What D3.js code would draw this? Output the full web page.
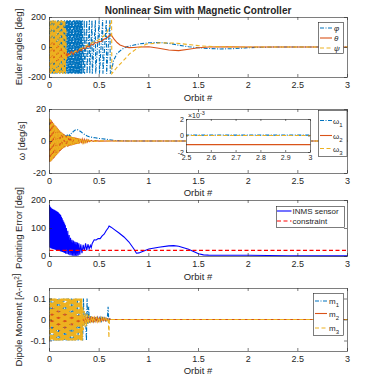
<!DOCTYPE html>
<html>
<head>
<meta charset="utf-8">
<script src="https://cdn.jsdelivr.net/npm/d3@7"></script>
<style>
  body { margin: 0; background: #fff; }
  svg text { font-family: "Liberation Sans", Arial, Helvetica, sans-serif; fill: #262626; }
</style>
</head>
<body>
<script>
// ---- data: [orbit #, value] ----

const orbitTicks = [0, 0.5, 1, 1.5, 2, 2.5, 3];
const eulerTicks = [-200, 0, 200];
const omegaTicks = [-20, 0, 20];
const errorTicks = [0, 100, 200];
const dipoleTicks = [-0.1, 0, 0.1];
const insetXTicks = [2.5, 2.6, 2.7, 2.8, 2.9, 3];
const insetYTicks = [-0.002, 0, 0.002];

const eulerNames = ["φ", "θ", "ψ"];
const omegaNames = ["1", "2", "3"];
const errorNames = ["INMS sensor", "constraint"];
const dipoleNames = ["1", "2", "3"];

// Euler angles [deg]
const eulerPhi = [[0,165],[0.005,-172],[0.01,178],[0.015,-160],[0.02,174],[0.025,-178],[0.03,168],[0.035,-175],[0.04,179],[0.045,-166],
  [0.05,172],[0.055,-178],[0.06,176],[0.065,-170],[0.07,162],[0.075,-178],[0.08,177],[0.085,-168],[0.09,179],[0.095,-174],
  [0.1,170],[0.105,-178],[0.11,175],[0.115,-163],[0.12,178],[0.125,-176],[0.13,169],[0.135,-179],[0.14,176],[0.145,-171],
  [0.15,179],[0.155,-177],[0.16,172],[0.165,-179],[0.17,177],[0.175,-174],[0.18,179],[0.185,-178],[0.19,175],[0.195,-179],
  [0.2,178],[0.205,-176],[0.21,179],[0.215,-178],[0.22,174],[0.225,-179],[0.23,178],[0.235,-177],[0.24,179],[0.245,-175],
  [0.25,178],[0.255,-179],[0.26,176],[0.265,-178],[0.27,179],[0.275,-176],[0.28,178],[0.285,-179],[0.29,177],[0.295,-178],
  [0.3,179],[0.305,-177],[0.31,178],[0.315,-179],[0.32,176],[0.325,-178],[0.33,179],[0.34,-178],[0.35,178],
  [0.353,-178],[0.375,178],[0.378,-178],[0.402,178],[0.405,-178],[0.428,178],[0.431,-178],[0.462,178],[0.465,-178],
  [0.5,178],[0.503,-178],[0.535,178],[0.538,-178],[0.572,178],[0.575,-178],[0.608,178],[0.612,-178],
  [0.63,-140],[0.645,-90],[0.68,-43],[0.73,-15],[0.78,2],[0.85,13],[0.91,21],[1.0,28],[1.1,30],[1.2,25],[1.3,12],
  [1.4,2],[1.5,-5],[1.6,-10],[1.72,-13],[1.85,-11],[1.97,-6],[2.1,-2],[2.3,0],[3,0]];
const eulerTheta = [[0,0],[0.005,70],[0.01,-90],[0.015,50],[0.02,-100],[0.025,40],[0.03,-95],[0.035,60],[0.04,-110],[0.045,30],
  [0.05,-90],[0.055,45],[0.06,-105],[0.065,20],[0.07,-95],[0.075,25],[0.08,-100],[0.085,10],[0.09,-90],[0.095,15],
  [0.1,-85],[0.105,0],[0.11,-90],[0.115,-5],[0.12,-80],[0.125,-10],[0.13,-85],[0.135,-20],[0.14,-75],[0.145,-25],
  [0.15,-80],[0.155,-30],[0.16,-70],[0.165,-35],[0.17,-65],[0.175,-40],[0.18,-60],[0.19,-45],[0.2,-55],
  [0.22,-30],[0.24,-50],[0.26,-25],[0.28,-35],[0.3,-15],[0.32,-25],[0.34,-5],[0.36,-12],[0.38,5],[0.4,0],
  [0.42,20],[0.44,14],[0.46,30],[0.48,27],[0.5,38],[0.52,35],[0.54,48],[0.56,55],[0.58,62],[0.6,75],[0.615,82],
  [0.63,72],[0.65,52],[0.68,30],[0.71,14],[0.75,3],[0.8,-4],[0.85,-3],[0.9,0],[1.0,2],[1.1,-8],[1.2,-20],[1.3,-24],
  [1.4,-15],[1.5,-5],[1.6,0],[1.8,2],[2.0,0],[3,0]];
const eulerPsi = [[0,-170],[0.005,176],[0.01,-178],[0.015,170],[0.02,-174],[0.025,178],[0.03,-165],[0.035,177],[0.04,-178],[0.045,172],
  [0.05,-176],[0.055,179],[0.06,-170],[0.065,175],[0.07,-178],[0.075,168],[0.08,-177],[0.085,178],[0.09,-172],[0.095,176],
  [0.1,-179],[0.105,170],[0.11,-175],[0.115,178],[0.12,-168],[0.125,177],[0.13,-178],[0.135,173],[0.14,-176],[0.145,179],
  [0.15,-171],[0.155,175],[0.16,-178],[0.165,120],[0.17,-80],
  [0.19,-60],[0.22,-45],[0.26,-30],[0.3,-15],[0.35,0],[0.4,20],[0.45,35],[0.5,50],[0.55,75],[0.58,100],[0.605,140],
  [0.625,178],[0.628,-178],[0.68,-135],[0.745,-90],[0.81,-43],[0.88,-10],[0.98,20],[1.12,28],[1.28,25],[1.42,15],
  [1.5,9],[1.6,4],[1.8,1],[2.0,0],[3,0]];

// body rates [deg/s]
const omega1 = [[0,12],[0.006,-12.5],[0.012,12],[0.018,-11.5],[0.024,11],[0.03,-10.8],[0.036,10.2],[0.042,-9.8],[0.048,9.4],[0.054,-9],
  [0.06,8.6],[0.066,-8.2],[0.072,7.8],[0.078,-7.4],[0.084,7],[0.09,-6.6],[0.096,6.2],[0.102,-5.8],[0.108,5.6],[0.114,-5.2],
  [0.12,5],[0.126,-4.6],[0.132,4.4],[0.138,-4],[0.144,4],[0.15,-3.4],[0.156,3.8],[0.162,-2.6],[0.168,3.6],[0.174,-1.5],
  [0.18,3.5],[0.19,2.5],[0.2,3.8],[0.21,3.2],[0.22,4.8],[0.23,5],[0.24,6],[0.25,6.4],[0.26,6.9],[0.27,7],[0.28,7.1],
  [0.29,6.8],[0.3,6.5],[0.32,5.6],[0.34,4.6],[0.36,3.8],[0.38,3.1],[0.4,2.6],[0.42,2.4],[0.44,2.1],[0.46,2],[0.48,1.8],
  [0.5,1.6],[0.53,1.4],[0.56,1.2],[0.6,0.8],[0.65,0.4],[0.7,0.15],[0.8,0.00005],[3,0.00005]];
const omega2 = [[0,-13],[0.006,13.6],[0.012,-12.8],[0.018,12.9],[0.024,-12],[0.03,12],[0.036,-11.3],[0.042,11],[0.048,-10.4],[0.054,10],
  [0.06,-9.5],[0.066,9.2],[0.072,-8.7],[0.078,8.3],[0.084,-7.8],[0.09,7.4],[0.096,-7],[0.102,6.6],[0.108,-6.2],[0.114,5.8],
  [0.12,-5.5],[0.126,5.1],[0.132,-4.8],[0.138,4.5],[0.144,-4.3],[0.15,4.1],[0.156,-3.9],[0.162,3.2],[0.168,-2.8],[0.174,3.3],
  [0.18,-3.6],[0.186,3.4],[0.192,-3.3],[0.198,3.1],[0.204,-3],[0.21,2.9],[0.216,-2.8],[0.222,2.7],[0.228,-2.6],[0.234,2.5],
  [0.24,-2.4],[0.246,2.3],[0.252,-2.2],[0.258,2.1],[0.264,-2],[0.27,2],[0.276,-1.9],[0.282,1.8],[0.288,-1.7],[0.294,1.6],
  [0.3,-1.5],[0.31,1.4],[0.32,-1.3],[0.33,1.2],[0.34,-1.1],[0.35,1],[0.36,-0.9],[0.37,0.8],[0.38,-0.7],[0.39,0.6],
  [0.4,-0.5],[0.42,0.4],[0.44,-0.3],[0.46,0.2],[0.5,-0.1],[0.6,-0.0011],[3,-0.0011]];
const omega3 = [[0,14],[0.006,-13.5],[0.012,13.2],[0.018,-12.6],[0.024,12.2],[0.03,-11.8],[0.036,11.2],[0.042,-10.8],[0.048,10.3],[0.054,-9.8],
  [0.06,9.4],[0.066,-9],[0.072,8.5],[0.078,-8.1],[0.084,7.6],[0.09,-7.2],[0.096,6.8],[0.102,-6.4],[0.108,6],[0.114,-5.7],
  [0.12,5.3],[0.126,-5],[0.132,4.7],[0.138,-4.4],[0.144,4.2],[0.15,-4],[0.156,3.8],[0.162,-3.5],[0.168,2.5],[0.174,-3],
  [0.18,3.5],[0.186,-3.4],[0.192,3.3],[0.198,-3.2],[0.204,3],[0.21,-2.9],[0.216,2.8],[0.222,-2.7],[0.228,2.6],[0.234,-2.5],
  [0.24,2.4],[0.246,-2.3],[0.252,2.2],[0.258,-2.1],[0.264,2],[0.27,-2],[0.276,1.9],[0.282,-1.8],[0.288,1.7],[0.294,-1.6],
  [0.3,1.5],[0.31,-1.4],[0.32,1.3],[0.33,-1.2],[0.34,1.1],[0.35,-1],[0.36,0.9],[0.37,-0.8],[0.38,0.7],[0.39,-0.6],
  [0.4,0.5],[0.42,-0.4],[0.44,0.3],[0.46,-0.2],[0.5,0.1],[0.6,0],[3,0]];

// pointing error [deg]
const pointError = [[0,182],[0.004,30],[0.008,176],[0.012,28],[0.016,172],[0.02,27],[0.024,170],[0.028,26],[0.032,168],[0.036,25],
  [0.04,166],[0.044,24],[0.048,165],[0.052,23],[0.056,163],[0.06,22],[0.064,162],[0.068,21],[0.072,160],[0.076,20],
  [0.08,158],[0.084,19],[0.088,156],[0.092,18],[0.096,153],[0.1,18],[0.104,150],[0.108,17],[0.112,146],[0.116,16],
  [0.12,140],[0.124,15],[0.128,135],[0.132,14],[0.136,128],[0.14,13],[0.144,122],[0.148,12],[0.152,116],[0.156,11],
  [0.16,110],[0.163,8],[0.17,100],[0.177,7],[0.184,90],[0.191,5],[0.198,75],[0.205,3],[0.212,65],[0.219,2],
  [0.226,58],[0.233,1],[0.24,55],[0.247,0],[0.254,52],[0.261,1],[0.268,50],[0.275,0],[0.282,48],[0.289,2],[0.296,45],
  [0.305,5],[0.315,42],[0.327,10],[0.339,40],[0.351,18],[0.363,45],[0.375,20],[0.387,42],[0.399,25],[0.411,38],[0.42,30],
  [0.43,45],[0.45,58],[0.47,57],[0.49,62],[0.51,62],[0.53,72],[0.55,78],[0.57,90],[0.59,100],[0.6,107],[0.62,103],
  [0.65,95],[0.7,82],[0.75,68],[0.8,50],[0.85,25],[0.875,10],[0.9,11],[0.95,18],[1.0,25],[1.1,31],[1.2,36],[1.25,37],
  [1.3,35],[1.4,24],[1.5,8],[1.55,4],[1.6,3],[2.0,2.5],[2.4,1],[3,0.5]];
const pointLimit = [[0,20],[3,20]];

// dipole moment [A-m^2]
const dipoleM1 = [[0,0.1],[0.008,-0.1],[0.016,0.1],[0.024,-0.1],[0.032,0.09],[0.04,-0.1],[0.048,0.1],[0.056,-0.1],[0.064,0.08],[0.072,-0.1],
  [0.08,0.1],[0.088,-0.1],[0.096,0.1],[0.104,-0.1],[0.112,0.07],[0.12,-0.1],[0.128,0.1],[0.136,-0.1],[0.144,0.1],[0.152,-0.1],
  [0.16,0.06],[0.168,-0.1],[0.176,0.1],[0.184,-0.1],[0.19,0.1],[0.196,-0.1],[0.204,0.05],[0.212,-0.1],[0.22,0.1],[0.228,-0.1],
  [0.236,0.1],[0.242,-0.1],[0.25,0.04],[0.258,-0.1],[0.266,0.1],[0.274,-0.06],[0.282,0.1],[0.288,-0.1],[0.296,0.03],[0.304,-0.05],
  [0.312,0.1],[0.318,-0.1],[0.326,0.04],[0.334,-0.1],[0.342,0.1],[0.35,-0.03],[0.36,0.03],[0.372,-0.1],[0.378,0.1],[0.386,-0.02],
  [0.394,0.06],[0.402,-0.015],[0.414,0.015],[0.426,-0.015],[0.438,0.012],[0.45,-0.012],[0.462,0.012],[0.474,-0.01],[0.486,0.01],
  [0.498,-0.01],[0.51,0.01],[0.522,-0.008],[0.534,0.008],[0.546,-0.008],[0.558,0.008],[0.57,-0.006],[0.582,0.006],[0.59,0.06],
  [0.597,-0.01],[0.604,0.002],[0.62,0],[3,0]];
const dipoleM2 = [[0,0.02],[0.008,-0.04],[0.016,0.05],[0.024,-0.03],[0.032,0.06],[0.04,-0.05],[0.048,0.04],[0.056,-0.06],[0.064,0.05],[0.072,-0.04],
  [0.08,0.06],[0.088,-0.05],[0.096,0.05],[0.104,-0.06],[0.112,0.04],[0.12,-0.05],[0.128,0.05],[0.136,-0.04],[0.144,0.045],[0.152,-0.05],
  [0.16,0.04],[0.168,-0.045],[0.176,0.035],[0.184,-0.04],[0.192,0.035],[0.2,-0.04],[0.208,0.03],[0.216,-0.035],[0.224,0.03],[0.232,-0.03],
  [0.24,0.025],[0.248,-0.03],[0.256,0.025],[0.264,-0.025],[0.272,0.02],[0.28,-0.025],[0.288,0.02],[0.296,-0.02],[0.304,0.02],[0.312,-0.02],
  [0.32,0.018],[0.33,-0.018],[0.34,0.016],[0.35,-0.016],[0.36,0.015],[0.372,-0.015],[0.384,0.014],[0.396,-0.014],[0.408,0.012],[0.42,-0.012],
  [0.432,0.012],[0.444,-0.01],[0.456,0.01],[0.468,-0.01],[0.48,0.01],[0.492,-0.008],[0.504,0.008],[0.516,-0.008],[0.528,0.008],
  [0.54,-0.006],[0.552,0.006],[0.564,-0.006],[0.576,0.005],[0.588,-0.005],[0.6,0.004],[0.62,0],[3,0]];
const dipoleM3 = [[0,-0.1],[0.005,0.1],[0.01,-0.1],[0.015,0.1],[0.02,-0.1],[0.025,0.1],[0.03,-0.1],[0.035,0.1],[0.04,-0.1],[0.045,0.1],
  [0.05,-0.1],[0.055,0.1],[0.06,-0.1],[0.065,0.1],[0.07,-0.1],[0.075,0.1],[0.08,-0.1],[0.085,0.1],[0.09,-0.1],[0.095,0.1],
  [0.1,-0.1],[0.105,0.1],[0.11,-0.1],[0.115,0.1],[0.12,-0.1],[0.125,0.1],[0.13,-0.1],[0.135,0.1],[0.14,-0.1],[0.145,0.1],
  [0.15,-0.1],[0.155,0.1],[0.16,-0.1],[0.165,0.1],[0.17,-0.1],[0.175,0.1],[0.18,-0.1],[0.185,0.1],[0.19,-0.1],[0.195,0.1],
  [0.2,-0.1],[0.205,0.1],[0.21,-0.1],[0.215,0.1],[0.22,-0.1],[0.225,0.1],[0.23,-0.1],[0.235,0.1],[0.24,-0.1],[0.245,0.1],
  [0.25,-0.1],[0.255,0.1],[0.26,-0.1],[0.265,0.1],[0.27,-0.1],[0.275,0.1],[0.28,-0.1],[0.285,0.1],[0.29,-0.1],[0.295,0.1],
  [0.3,-0.1],[0.305,0.1],[0.31,-0.1],[0.315,0.1],[0.32,-0.1],[0.325,0.1],[0.33,-0.1],[0.336,0.06],[0.342,-0.05],[0.35,0.04],
  [0.358,-0.035],[0.366,0.03],[0.374,-0.03],[0.382,0.025],[0.39,-0.022],[0.4,0.02],[0.412,-0.018],[0.424,0.016],[0.436,-0.015],
  [0.448,0.014],[0.46,-0.013],[0.472,0.012],[0.484,-0.011],[0.496,0.01],[0.508,-0.01],[0.52,0.009],[0.532,-0.008],[0.544,0.008],
  [0.556,-0.007],[0.568,0.006],[0.58,-0.005],[0.592,0.004],[0.598,-0.087],[0.603,0.002],[0.62,0],[3,0]];

// ---- drawing ----
var blue = "#0072BD", orange = "#D95319", yellow = "#EDB120";
var dashDot = "4,1.5,1,1.5", dashed = "4,2.5";
var axisColor = "#262626";
var lw = 1.1;

var svg = d3.select("body").append("svg")
    .attr("width", 384)
    .attr("height", 381);

var x = d3.scaleLinear().domain([0, 3]).range([49, 347]);
var fmt = function(d) { return String(d); };

function addAxes(g, xs, ys, xt, yt, o) {
  var yb = ys.range()[0], yt0 = ys.range()[1];
  var xl = xs.range()[0], xr = xs.range()[1];
  g.append("g").attr("transform", "translate(0," + yb + ")")
    .call(d3.axisBottom(xs).tickValues(xt).tickSizeInner(-o.tick).tickSizeOuter(0).tickPadding(o.xPad).tickFormat(o.xFmt));
  g.append("g").attr("transform", "translate(0," + yt0 + ")")
    .call(d3.axisTop(xs).tickValues(xt).tickSizeInner(-o.tick).tickSizeOuter(0).tickFormat(""));
  g.append("g").attr("transform", "translate(" + xl + ",0)")
    .call(d3.axisLeft(ys).tickValues(yt).tickSizeInner(-o.tick).tickSizeOuter(0).tickPadding(o.yPad).tickFormat(o.yFmt));
  g.append("g").attr("transform", "translate(" + xr + ",0)")
    .call(d3.axisRight(ys).tickValues(yt).tickSizeInner(-o.tick).tickSizeOuter(0).tickFormat(""));
  g.selectAll(".domain, .tick line").attr("stroke", axisColor).attr("stroke-width", 0.6);
  g.selectAll(".tick text").attr("font-size", o.fs).attr("fill", axisColor)
    .attr("font-family", "'Liberation Sans', Arial, sans-serif");
}

function drawLines(g, xs, ys, series, clipId) {
  g.append("clipPath").attr("id", clipId).append("rect")
    .attr("x", xs.range()[0]).attr("y", ys.range()[1])
    .attr("width", xs.range()[1] - xs.range()[0] + 1)
    .attr("height", ys.range()[0] - ys.range()[1] + 1);
  var line = d3.line().x(d => xs(d[0]) + 0.5).y(d => ys(d[1]));
  var pg = g.append("g").attr("clip-path", "url(#" + clipId + ")");
  series.forEach(function(s) {
    pg.append("path").datum(s.data)
      .attr("d", line)
      .attr("fill", "none")
      .attr("stroke", s.color)
      .attr("stroke-width", s.width || lw)
      .attr("stroke-dasharray", s.dash || null);
  });
}

function legend(g, bx, items) {
  g.append("rect").attr("x", bx.x + 0.5).attr("y", bx.y + 0.5).attr("width", bx.w).attr("height", bx.h)
    .attr("fill", "#fff").attr("stroke", axisColor).attr("stroke-width", 0.6);
  items.forEach(function(it, i) {
    var yy = bx.y + bx.rows[i];
    g.append("line").attr("x1", bx.x + bx.l0).attr("x2", bx.x + bx.l1).attr("y1", yy).attr("y2", yy)
      .attr("stroke", it.color).attr("stroke-width", it.width || lw).attr("stroke-dasharray", it.dash || null);
    var t = g.append("text").attr("x", bx.x + bx.tx).attr("y", yy + 3).attr("font-size", 8);
    t.append("tspan").text(it.label).attr("font-style", it.italic ? "italic" : null);
    if (it.sub) t.append("tspan").text(it.sub).attr("font-size", 6).attr("dy", 3);
  });
}

function yLabel(xp, yc, parts) {
  var t = svg.append("text").attr("transform", "translate(" + xp + "," + yc + ") rotate(-90)")
    .attr("text-anchor", "middle").attr("font-size", 9.5);
  parts.forEach(function(p) {
    var s = t.append("tspan").text(p.t);
    if (p.sup) s.attr("font-size", 6.5).attr("dy", -3.5);
  });
}
function xLabel(yb) {
  svg.append("text").attr("x", 198).attr("y", yb).attr("text-anchor", "middle")
    .attr("font-size", 9.5).text("Orbit #");
}

var mainOpt = {tick: 3, xPad: 5, yPad: 3, fs: 9, xFmt: fmt, yFmt: fmt};

// title
svg.append("text").attr("x", 198).attr("y", 13.5).attr("text-anchor", "middle")
  .attr("font-size", 10).attr("font-weight", "bold").text("Nonlinear Sim with Magnetic Controller");

// Panel 1: Euler angles
var y1 = d3.scaleLinear().domain([-200, 200]).range([77, 17]);
var g1 = svg.append("g");
drawLines(g1, x, y1, [
  {data: eulerPhi, color: blue, dash: dashDot},
  {data: eulerTheta, color: orange},
  {data: eulerPsi, color: yellow, dash: dashed}
], "c1");
addAxes(g1, x, y1, orbitTicks, eulerTicks, mainOpt);
legend(g1, {x: 318, y: 22, w: 25, h: 31, rows: [6, 16, 26], l0: 2, l1: 14, tx: 16}, [
  {color: blue, dash: dashDot, label: eulerNames[0], italic: true},
  {color: orange, label: eulerNames[1], italic: true},
  {color: yellow, dash: dashed, label: eulerNames[2], italic: true}
]);
yLabel(22, 47, [{t: "Euler angles [deg]"}]);
xLabel(100.5);

// Panel 2: body rates, with zoomed inset
var y2 = d3.scaleLinear().domain([-20, 20]).range([173, 109]);
var g2 = svg.append("g");
drawLines(g2, x, y2, [
  {data: omega1, color: blue, dash: dashDot},
  {data: omega2, color: orange},
  {data: omega3, color: yellow, dash: dashed}
], "c2");
addAxes(g2, x, y2, orbitTicks, omegaTicks, mainOpt);

var xi = d3.scaleLinear().domain([2.5, 3]).range([186, 310]);
var yi = d3.scaleLinear().domain([-0.002, 0.002]).range([152, 119]);
var gi = svg.append("g");
gi.append("rect").attr("x", 186).attr("y", 119).attr("width", 125).attr("height", 34).attr("fill", "#fff");
drawLines(gi, xi, yi, [
  {data: omega1, color: blue, dash: dashDot},
  {data: omega2, color: orange},
  {data: omega3, color: yellow, dash: dashed}
], "ci");
addAxes(gi, xi, yi, insetXTicks, insetYTicks, {tick: 2, xPad: 3, yPad: 2, fs: 7,
  xFmt: fmt, yFmt: function(d) { return String(Math.round(d * 1000)); }});
var mult = gi.append("text").attr("x", 188).attr("y", 118).attr("font-size", 7);
mult.append("tspan").text("×10");
mult.append("tspan").text("-3").attr("font-size", 5.5).attr("dy", -3);

legend(g2, {x: 318, y: 110, w: 28.5, h: 46, rows: [10.5, 25.5, 38.5], l0: 2, l1: 14, tx: 15}, [
  {color: blue, dash: dashDot, label: "ω", sub: omegaNames[0]},
  {color: orange, label: "ω", sub: omegaNames[1]},
  {color: yellow, dash: dashed, label: "ω", sub: omegaNames[2]}
]);
yLabel(25, 141, [{t: "ω [deg/s]"}]);
xLabel(195.5);

// Panel 3: pointing error
var y3 = d3.scaleLinear().domain([0, 200]).range([256, 200]);
var g3 = svg.append("g");
drawLines(g3, x, y3, [
  {data: pointError, color: "#0000FF"},
  {data: pointLimit, color: "#FF0000", dash: "4,2.5", width: 1.2}
], "c3");
addAxes(g3, x, y3, orbitTicks, errorTicks, mainOpt);
legend(g3, {x: 276, y: 206, w: 68, h: 21, rows: [5, 15], l0: 1, l1: 15.5, tx: 16.5}, [
  {color: "#0000FF", label: errorNames[0]},
  {color: "#FF0000", dash: "4,2.5", label: errorNames[1]}
]);
yLabel(22, 228, [{t: "Pointing Error [deg]"}]);
xLabel(280);

// Panel 4: dipole moment
var y4 = d3.scaleLinear().domain([-0.15, 0.15]).range([351, 288]);
var g4 = svg.append("g");
drawLines(g4, x, y4, [
  {data: dipoleM1, color: blue, dash: dashDot},
  {data: dipoleM2, color: orange},
  {data: dipoleM3, color: yellow, dash: dashed}
], "c4");
addAxes(g4, x, y4, orbitTicks, dipoleTicks, mainOpt);
legend(g4, {x: 313, y: 293, w: 30, h: 42, rows: [8, 20.5, 35], l0: 2, l1: 14, tx: 16}, [
  {color: blue, dash: dashDot, label: "m", sub: dipoleNames[0]},
  {color: orange, label: "m", sub: dipoleNames[1]},
  {color: yellow, dash: dashed, label: "m", sub: dipoleNames[2]}
]);
yLabel(22, 320, [{t: "Dipole Moment [A-m"}, {t: "2", sup: true}, {t: "]"}]);
xLabel(374);
</script>
</body>
</html>
